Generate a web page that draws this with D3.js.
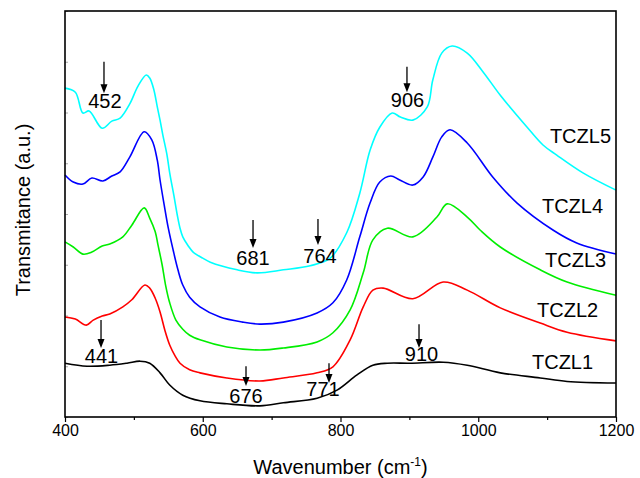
<!DOCTYPE html>
<html>
<head>
<meta charset="utf-8">
<script src="https://cdn.jsdelivr.net/npm/d3@7"></script>
<style>
  body { margin: 0; background: #fff; }
  svg text { font-family: "Liberation Sans", Arial, sans-serif; fill: #000; }
</style>
</head>
<body>
<svg id="chart" width="640" height="478"></svg>
<script>
// spectra: [wavenumber (cm-1), transmitance (a.u., stacked)]
const tczl1 = [[400,1.06],[432,1.00],[465,1.02],[490,1.06],[509,1.10],[523,1.06],[538,0.87],[552,0.63],[571,0.43],[596,0.32],[635,0.26],[683,0.22],[717,0.28],[766,0.37],[795,0.53],[824,0.83],[847,1.02],[868,1.06],[901,1.06],[949,1.08],[984,1.02],[1032,0.87],[1090,0.77],[1129,0.70],[1200,0.67]];
const tczl2 = [[400,1.97],[415,1.93],[431,1.81],[441,1.91],[454,1.99],[465,2.03],[484,2.17],[497,2.31],[516,2.60],[523,2.54],[531,2.34],[538,2.07],[545,1.71],[552,1.42],[560,1.20],[567,1.06],[581,0.93],[596,0.87],[635,0.77],[683,0.71],[717,0.77],[766,0.87],[789,0.99],[814,1.52],[833,2.17],[847,2.50],[862,2.54],[905,2.33],[949,2.66],[984,2.50],[1032,2.15],[1090,1.85],[1129,1.67],[1200,1.50]];
const tczl3 = [[400,3.45],[412,3.35],[426,3.21],[439,3.25],[454,3.37],[465,3.41],[484,3.55],[497,3.78],[515,4.12],[523,3.92],[531,3.65],[535,3.39],[541,3.00],[546,2.60],[552,2.25],[561,1.91],[571,1.73],[581,1.61],[596,1.52],[635,1.38],[683,1.32],[717,1.36],[766,1.48],[789,1.66],[814,2.11],[833,2.84],[847,3.49],[868,3.72],[905,3.55],[940,3.94],[955,4.20],[984,3.94],[1003,3.68],[1032,3.35],[1090,2.90],[1129,2.66],[1200,2.40]];
const tczl4 = [[400,4.77],[412,4.63],[426,4.59],[439,4.71],[455,4.65],[468,4.75],[480,4.83],[494,5.12],[515,5.62],[526,5.46],[534,5.06],[538,4.67],[544,4.18],[550,3.72],[557,3.29],[564,2.90],[571,2.60],[581,2.36],[596,2.17],[625,1.97],[658,1.87],[683,1.83],[717,1.87],[766,2.05],[789,2.25],[809,2.70],[828,3.55],[843,4.22],[857,4.63],[873,4.75],[886,4.67],[905,4.57],[920,4.73],[934,5.12],[947,5.52],[959,5.66],[984,5.40],[1021,4.73],[1056,4.22],[1109,3.68],[1143,3.43],[1200,3.21]];
const tczl5 = [[400,6.48],[415,6.40],[426,5.99],[435,6.03],[454,5.69],[468,5.83],[480,5.89],[494,6.17],[506,6.52],[518,6.74],[523,6.68],[529,6.45],[534,6.11],[538,5.85],[542,5.56],[548,5.17],[552,4.81],[558,4.37],[563,3.98],[567,3.72],[571,3.55],[579,3.37],[586,3.25],[600,3.13],[611,3.05],[650,2.90],[679,2.84],[717,2.90],[756,2.98],[785,3.13],[809,3.63],[828,4.41],[843,5.26],[857,5.71],[875,5.99],[887,5.91],[905,5.85],[926,6.11],[934,6.64],[947,7.17],[962,7.31],[984,7.17],[1007,6.80],[1032,6.34],[1071,5.71],[1094,5.36],[1114,5.16],[1152,4.81],[1200,4.47]];

const seriesNames = ["TCZL1", "TCZL2", "TCZL3", "TCZL4", "TCZL5"];
const seriesData = [tczl1, tczl2, tczl3, tczl4, tczl5];
const seriesColors = ["#000000", "#ff0000", "#00ee00", "#0000ff", "#00ffff"];

const xTicks = [400, 600, 800, 1000, 1200];
const xMinorTicks = [500, 700, 900, 1100];

// peak marks: label text and where the arrow points
const peakLabels = ["452", "906", "681", "764", "441", "910", "676", "771"];
const peakArrowX = [456.6, 896.5, 673, 767.3, 452.3, 914, 662.8, 783.3];
const peakArrowTop = [7.00, 6.90, 3.88, 3.90, 1.91, 1.83, 1.00, 1.06];
const peakArrowTip = [6.38, 6.40, 3.33, 3.39, 1.36, 1.36, 0.61, 0.67];
const peakTextX = [458, 897.3, 673, 770.2, 453, 917.6, 662.8, 774.6];
const peakTextY = [6.09, 6.11, 3.00, 3.03, 1.06, 1.10, 0.28, 0.41];

// where the series names sit
const nameX = [1078, 1085.3, 1097, 1092.5, 1104];
const nameY = [0.95, 1.97, 2.96, 4.02, 5.40];

const width = 640, height = 478;
const margin = {top: 11, right: 24, bottom: 61, left: 65};

const svg = d3.select("#chart");

const x = d3.scaleLinear().domain([400, 1200]).range([margin.left, width - margin.right]);
const y = d3.scaleLinear().domain([0, 8]).range([height - margin.bottom, margin.top]);

// faint inner ticks on the left axis
const yAxis = svg.append("g")
    .attr("transform", `translate(${margin.left},0)`)
    .call(d3.axisLeft(y).ticks(8).tickSize(-3).tickFormat(""));
yAxis.select(".domain").remove();
yAxis.selectAll("line").attr("stroke", "#aaa");

// bottom axis
const xAxis = svg.append("g")
    .attr("transform", `translate(0,${height - margin.bottom})`)
    .call(d3.axisBottom(x).tickValues(xTicks).tickSize(5).tickSizeOuter(0).tickFormat(d3.format("d")));
xAxis.select(".domain").remove();
xAxis.selectAll("line").attr("stroke-width", 1.2);
xAxis.selectAll("text").style("font-size", "16px").attr("y", 8);

const xMinor = svg.append("g")
    .attr("transform", `translate(0,${height - margin.bottom})`)
    .call(d3.axisBottom(x).tickValues(xMinorTicks).tickSize(3).tickFormat(""));
xMinor.select(".domain").remove();
xMinor.selectAll("line").attr("stroke-width", 1.2);

// spectra
const line = d3.line()
    .x(d => x(d[0]))
    .y(d => y(d[1]))
    .curve(d3.curveCatmullRom.alpha(0.5));

seriesData.forEach((data, i) => {
    svg.append("path")
        .datum(data)
        .attr("fill", "none")
        .attr("stroke", seriesColors[i])
        .attr("stroke-width", 1.6)
        .attr("d", line);
    svg.append("text")
        .attr("x", x(nameX[i]))
        .attr("y", y(nameY[i]))
        .style("font-size", "20px")
        .text(seriesNames[i]);
});

// frame
svg.append("rect")
    .attr("x", x(400))
    .attr("y", y(8))
    .attr("width", x(1200) - x(400))
    .attr("height", y(0) - y(8))
    .attr("fill", "none")
    .attr("stroke", "#000")
    .attr("stroke-width", 1.6);

// arrows + peak labels
peakLabels.forEach((label, i) => {
    const ax = x(peakArrowX[i]);
    const top = y(peakArrowTop[i]);
    const tip = y(peakArrowTip[i]);
    svg.append("line")
        .attr("x1", ax).attr("x2", ax)
        .attr("y1", top).attr("y2", tip - 6)
        .attr("stroke", "#000")
        .attr("stroke-width", 1.3);
    svg.append("path")
        .attr("d", `M${ax - 3.5},${tip - 9}L${ax + 3.5},${tip - 9}L${ax},${tip}Z`)
        .attr("fill", "#000");
    svg.append("text")
        .attr("x", x(peakTextX[i]))
        .attr("y", y(peakTextY[i]))
        .attr("text-anchor", "middle")
        .style("font-size", "20px")
        .text(label);
});

// axis titles
const xTitle = svg.append("text")
    .attr("x", x(800))
    .attr("y", 474)
    .attr("text-anchor", "middle")
    .style("font-size", "20px");
xTitle.append("tspan").text("Wavenumber (cm");
xTitle.append("tspan").attr("dy", -8).style("font-size", "12px").text("-1");
xTitle.append("tspan").attr("dy", 8).text(")");

svg.append("text")
    .attr("transform", `translate(30,${y(4) - 4}) rotate(-90)`)
    .attr("text-anchor", "middle")
    .style("font-size", "20px")
    .text("Transmitance (a.u.)");
</script>
</body>
</html>
